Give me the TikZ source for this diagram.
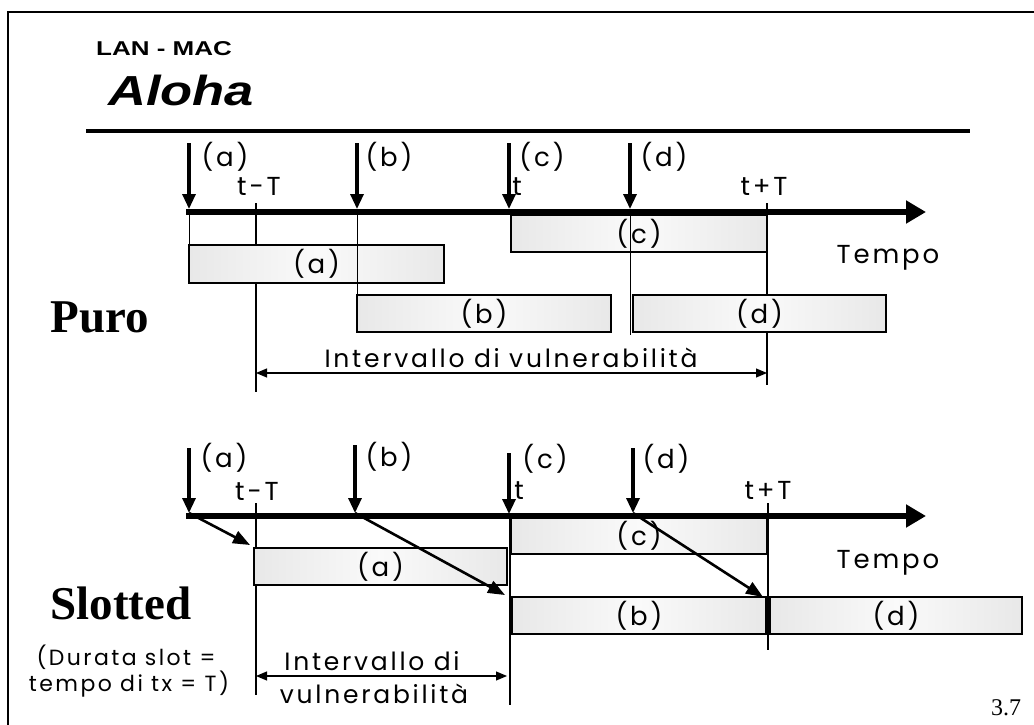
\documentclass[tikz,border=0pt]{standalone}
\usepackage{fontspec}
\setmainfont{Liberation Serif}
\newfontfamily\gothic[LetterSpace=11]{Poppins}
\newfontfamily\arialwide[FakeStretch=1.3]{Liberation Sans}
\newfontfamily\arialwidei[FakeStretch=1.25]{Liberation Sans}
\usetikzlibrary{arrows.meta}
\begin{document}
\begin{tikzpicture}[x=1pt,y=-1pt,
  pkt/.style={draw=black, line width=1.8pt, left color=black!9, right color=black!9, middle color=black!2,
    inner sep=0pt, outer sep=0pt, anchor=north west, font=\gothic\fontsize{26}{26}\selectfont},
  lbl/.style={inner sep=0pt, font=\gothic\fontsize{26}{26}\selectfont},
  mid/.style={inner sep=0pt, font=\gothic\fontsize{25}{25}\selectfont},
  small/.style={inner sep=0pt, font=\gothic\fontsize{22}{22}\selectfont},
  varrow/.style={line width=3.2pt, -{Triangle[width=13pt,length=15pt]}},
  darrow/.style={line width=2.6pt, -{Triangle[width=13pt,length=17pt]}},
  axisline/.style={line width=6pt, -{Triangle[width=22pt,length=20pt]}},
  tick/.style={line width=2pt},
  thinline/.style={line width=1pt},
  span/.style={line width=1.1pt, {Triangle[width=9pt,length=11pt]}-{Triangle[width=9pt,length=11pt]}},
  big/.style={inner sep=0pt, font=\bfseries\fontsize{47}{47}\selectfont}
]
\useasboundingbox (0,0) rectangle (1034,725);
\clip (0,0) rectangle (1034,725);
\fill[white] (0,0) rectangle (1034,725);
% frame
\coordinate (fr0) at (8,760);
\coordinate (fr1) at (8,12);
\coordinate (fr2) at (1060,12);
\draw[line width=2.5pt] (fr0) -- (fr1) -- (fr2);
% title
\node[inner sep=0pt, anchor=base west, font=\arialwide\bfseries\fontsize{20}{20}\selectfont] (lanmac) at (96,56) {LAN - MAC};
\node[inner sep=0pt, anchor=base west, font=\arialwidei\bfseries\itshape\fontsize{42}{42}\selectfont] (aloha) at (108,106) {Aloha};
\coordinate (ul0) at (86,131);
\coordinate (ul1) at (970,131);
\draw[line width=4.5pt] (ul0) -- (ul1);

% ================= PURO =================
\coordinate (uxs) at (186,212);
\coordinate (uxe) at (926,212);
\foreach \n/\x in {a/189,b/357,c/509,d/630}{
  \coordinate (u\n0) at (\x,143);
  \coordinate (u\n1) at (\x,209);
}
\coordinate (utmT0) at (256,203);
\coordinate (utmT1) at (256,392);
\coordinate (utpT0) at (767,203);
\coordinate (utpT1) at (767,385);
\draw[tick] (utmT0) -- (utmT1);
\draw[tick] (utpT0) -- (utpT1);
\draw[axisline] (uxs) -- (uxe);
\draw[varrow] (ua0) -- (ua1);
\draw[varrow] (ub0) -- (ub1);
\draw[varrow] (uc0) -- (uc1);
\draw[varrow] (ud0) -- (ud1);
\node[lbl] (ula) at (225,157) {(a)};
\node[lbl] (ulb) at (389,157) {(b)};
\node[lbl] (ulc) at (542,157) {(c)};
\node[lbl] (uld) at (664,157) {(d)};
\node[lbl] (ultmT) at (259,186) {t-T};
\node[lbl] (ult) at (517,187) {t};
\node[lbl] (ultpT) at (764,186) {t+T};
\node[lbl] (utempo) at (888,258) {Tempo};
\node[pkt, minimum width=256pt, minimum height=37pt] (pc) at (511,215) {(c)};
\node[pkt, minimum width=255pt, minimum height=38pt] (pa) at (189,245) {(a)};
\node[pkt, minimum width=254pt, minimum height=37pt] (pb) at (357,295) {(b)};
\node[pkt, minimum width=253pt, minimum height=37pt] (pd) at (633,295) {(d)};
\coordinate (uaT) at (189,215);
\coordinate (ubT) at (357,215);
\coordinate (udT) at (630,215);
\coordinate (udB) at (630,335);
\draw[thinline] (uaT) -- (pa.north west);
\draw[thinline] (ubT) -- (pb.north west);
\draw[thinline] (udT) -- (udB);
\coordinate (uv0) at (256,373);
\coordinate (uv1) at (767,373);
\draw[span] (uv0) -- (uv1);
\node[mid] (uvtext) at (511,358) {Intervallo di vulnerabilità};
\node[big] (puro) at (100,317) {Puro};

% ================= SLOTTED =================
\coordinate (lxs) at (186,516);
\coordinate (lxe) at (926,516);
\coordinate (la0) at (189,448); \coordinate (la1) at (189,513);
\coordinate (lb0) at (355,445); \coordinate (lb1) at (355,513);
\coordinate (lc0) at (509,453); \coordinate (lc1) at (509,514);
\coordinate (ld0) at (633,448); \coordinate (ld1) at (633,513);
\coordinate (ltmT0) at (256,503);
\coordinate (ltmT1) at (256,695);
\coordinate (lt0) at (510,516);
\coordinate (lt1) at (510,705);
\coordinate (ltpT0) at (768,503);
\coordinate (ltpT1) at (768,650);
\draw[tick] (ltmT0) -- (ltmT1);
\draw[line width=2.6pt] (lt0) -- (lt1);
\draw[tick] (ltpT0) -- (ltpT1);
\draw[axisline] (lxs) -- (lxe);
\draw[varrow] (la0) -- (la1);
\draw[varrow] (lb0) -- (lb1);
\draw[varrow] (lc0) -- (lc1);
\draw[varrow] (ld0) -- (ld1);
\node[lbl] (lla) at (224,458) {(a)};
\node[lbl] (llb) at (389,457) {(b)};
\node[lbl] (llc) at (545,459) {(c)};
\node[lbl] (lld) at (666,459) {(d)};
\node[lbl] (lltmT) at (257,491) {t-T};
\node[lbl] (llt) at (519,491) {t};
\node[lbl] (lltpT) at (768,490) {t+T};
\node[lbl] (ltempo) at (888,563) {Tempo};
\node[pkt, minimum width=256pt, minimum height=36pt] (sc) at (511,518) {(c)};
\node[pkt, minimum width=253pt, minimum height=37pt] (sa) at (254,548) {(a)};
\node[pkt, minimum width=254pt, minimum height=37pt] (sb) at (512,597) {(b)};
\node[pkt, minimum width=252pt, minimum height=37pt] (sd) at (770,597) {(d)};
\coordinate (dta) at (250,545);
\coordinate (dtb) at (505,595);
\coordinate (dtd) at (763,597);
\draw[darrow] (la1) -- (dta);
\draw[darrow] (lb1) -- (dtb);
\draw[darrow] (ld1) -- (dtd);
\coordinate (lv0) at (256,676);
\coordinate (lv1) at (507,676);
\draw[span] (lv0) -- (lv1);
\node[mid] (lvt1) at (372,661) {Intervallo di};
\node[mid] (lvt2) at (374,694) {vulnerabilità};
\node[big] (slotted) at (121,603) {Slotted};
\node[small] (dur1) at (126,657) {(Durata slot =};
\node[small] (dur2) at (129,684) {tempo di tx = T)};
\node[inner sep=0pt, font=\fontsize{24}{24}\selectfont] (pagenum) at (1006,708) {3.7};
\end{tikzpicture}
\end{document}
